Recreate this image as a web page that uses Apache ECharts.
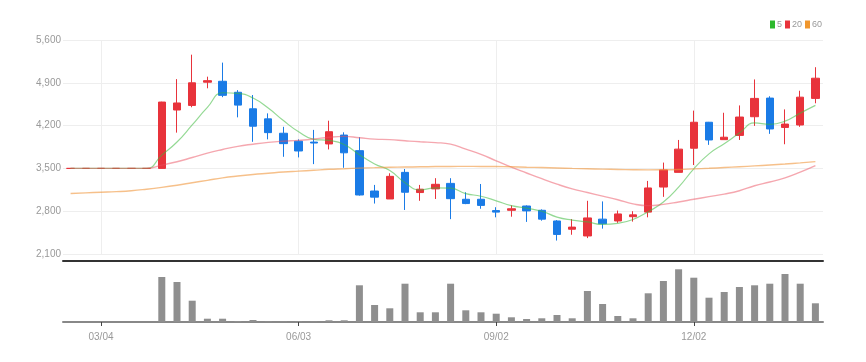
<!DOCTYPE html>
<html><head><meta charset="utf-8">
<script src="https://cdn.jsdelivr.net/npm/echarts@6/dist/echarts.min.js"></script>
<style>html,body{margin:0;padding:0;background:#fff}#c{width:866px;height:362px}</style>
</head><body><div id="c"></div>
<script>
const categories = ['02/19','02/26','03/04','03/11','03/18','03/25','04/01','04/08','04/15','04/22','04/29','05/06','05/13','05/20','05/27','06/03','06/10','06/17','06/24','07/01','07/08','07/15','07/22','07/29','08/05','08/12','08/19','08/26','09/02','09/09','09/16','09/23','09/30','10/07','10/14','10/21','10/28','11/04','11/11','11/18','11/25','12/02','12/09','12/16','12/23','12/30','01/06','01/13','01/20','01/27'];
// [open, close, low, high]
const candles = [
 [3500,3500,3500,3500],[3500,3500,3500,3500],[3500,3500,3500,3500],[3500,3500,3500,3500],[3500,3500,3500,3500],[3500,3500,3500,3500],
 [3500,4585,3500,4590],[4455,4570,4085,4960],[4530,4900,4500,5360],[4910,4935,4810,5000],[4925,4695,4665,5230],
 [4745,4535,4335,4780],[4475,4190,3935,4700],[4310,4085,3975,4400],[4075,3905,3690,4180],[3945,3785,3680,3975],
 [3930,3915,3570,4130],[3900,4100,3810,4280],[4045,3755,3510,4090],[3790,3065,3055,4010],[3130,3030,2925,3230],
 [3000,3370,3000,3420],[3435,3110,2820,3490],[3105,3160,2970,3230],[3165,3240,3000,3340],[3255,3005,2670,3340],
 [2995,2925,2915,3110],[2995,2895,2840,3245],[2810,2785,2700,2865],[2815,2840,2710,2895],[2885,2805,2625,2895],
 [2815,2670,2645,2830],[2640,2420,2320,2655],[2505,2540,2415,2670],[2395,2690,2360,2970],[2670,2595,2515,2960],
 [2640,2755,2610,2810],[2710,2740,2630,2800],[2785,3180,2700,3295],[3195,3475,3035,3595],[3435,3815,3435,3965],
 [3830,4255,3555,4445],[4255,3965,3885,4260],[3970,4010,3970,4410],[4040,4340,3965,4530],[4345,4645,4195,4955],
 [4650,4145,4065,4680],[4170,4225,3895,4465],[4210,4665,4180,4770],[4645,4975,4565,5155]
];
const volumes = [0,0,0,0,0,0,45000,40000,21300,3300,3300,1000,2000,700,700,700,700,1700,1700,36700,17000,13700,38300,9700,9700,38300,11700,9700,8300,4700,3000,3700,7000,3700,31000,18000,6000,3700,28700,41000,52700,44300,24300,30000,35000,36700,38300,48000,38300,18700];
const ma5 = [3500,3500,3500,3500,3500,3500,3717,3931,4211,4498,4737,4727,4651,4488,4282,4100,3976,3958,3892,3724,3573,3464,3266,3147,3182,3177,3088,3045,2970,2890,2850,2799,2704,2655,2625,2583,2600,2664,2792,2949,3193,3493,3738,3904,4077,4243,4221,4273,4404,4531];
const ma20 = [3500,3500,3500,3500,3500,3500,3554,3608,3678,3750,3809,3861,3896,3925,3945,3959,3980,4010,4023,4001,3978,3971,3952,3935,3922,3897,3814,3730,3624,3520,3425,3332,3243,3166,3105,3046,2988,2920,2891,2912,2951,2995,3038,3080,3135,3217,3278,3345,3439,3546];
const ma60 = [3090,3100,3110,3120,3135,3160,3190,3225,3265,3305,3345,3375,3400,3420,3440,3455,3470,3485,3495,3505,3512,3518,3522,3526,3530,3532,3533,3532,3530,3526,3520,3514,3507,3500,3494,3488,3483,3478,3476,3478,3483,3492,3502,3514,3527,3541,3556,3572,3590,3610];
const legendNames = ['5','20','60'];
const priceMin = 2100, priceMax = 5600, priceStep = 700;

const FONT = "'Liberation Sans Narrow', 'Liberation Sans', sans-serif";
const RED = '#E8333B', BLUE = '#1A7BE6';
const showIdx = (i) => (i - 2) % 13 === 0;

const chart = echarts.init(document.getElementById('c'));
chart.setOption({
  animation: false,
  backgroundColor: '#fff',
  legend: {
    data: legendNames, right: 39, top: 15, icon: 'rect', itemWidth: 5, itemHeight: 8, itemGap: 3,
    textStyle: { color: '#999', fontSize: 9, fontFamily: FONT, padding: [0, 0, 0, -3] }
  },
  grid: [
    { left: 63, right: 43, top: 40, height: 214 },
    { left: 63, right: 43, top: 262, height: 60 }
  ],
  xAxis: [
    { type: 'category', gridIndex: 0, data: categories, boundaryGap: true, offset: 7,
      axisLine: { show: true, onZero: false, lineStyle: { color: '#333', width: 2 } },
      axisTick: { show: false }, axisLabel: { show: false },
      splitLine: { show: true, alignWithLabel: true, interval: (i) => showIdx(i), lineStyle: { color: '#eeeeee' } } },
    { type: 'category', gridIndex: 1, data: categories, boundaryGap: true,
      axisLine: { show: true, onZero: false, lineStyle: { color: '#888', width: 2 } },
      axisTick: { show: true, alignWithLabel: true, interval: (i) => showIdx(i), length: 4, lineStyle: { color: '#444' } },
      axisLabel: { interval: (i) => showIdx(i), color: '#999', fontSize: 10, fontFamily: FONT, margin: 10 },
      splitLine: { show: false } }
  ],
  yAxis: [
    { type: 'value', gridIndex: 0, min: priceMin, max: priceMax, interval: priceStep, scale: true,
      axisLine: { show: false }, axisTick: { show: false },
      axisLabel: { color: '#999', fontSize: 10, fontFamily: FONT, margin: 2,
        formatter: (v) => v.toLocaleString('en-US') },
      splitLine: { lineStyle: { color: '#eeeeee' } } },
    { type: 'value', gridIndex: 1, min: 0, max: 60000, show: false, splitLine: { show: false } }
  ],
  series: [
    { type: 'candlestick', name: 'price', xAxisIndex: 0, yAxisIndex: 0, data: candles, barWidth: 8,
      itemStyle: { color: RED, color0: BLUE, borderColor: RED, borderColor0: BLUE, borderColorDoji: RED, borderWidth: 1 } },
    { type: 'line', name: '5', data: ma5, xAxisIndex: 0, yAxisIndex: 0, symbol: 'none', smooth: true,
      itemStyle: { color: '#2DB82D' }, lineStyle: { color: 'rgba(60,185,60,0.55)', width: 1.2 } },
    { type: 'line', name: '20', data: ma20, xAxisIndex: 0, yAxisIndex: 0, symbol: 'none', smooth: true,
      itemStyle: { color: '#E8333B' }, lineStyle: { color: 'rgba(236,80,95,0.5)', width: 1.4 } },
    { type: 'line', name: '60', data: ma60, xAxisIndex: 0, yAxisIndex: 0, symbol: 'none', smooth: true,
      itemStyle: { color: '#F0962D' }, lineStyle: { color: 'rgba(240,150,60,0.6)', width: 1.4 } },
    { type: 'bar', name: 'vol', data: volumes, xAxisIndex: 1, yAxisIndex: 1, barWidth: 7,
      itemStyle: { color: '#8f8f8f' } }
  ]
});
</script>
</body></html>
